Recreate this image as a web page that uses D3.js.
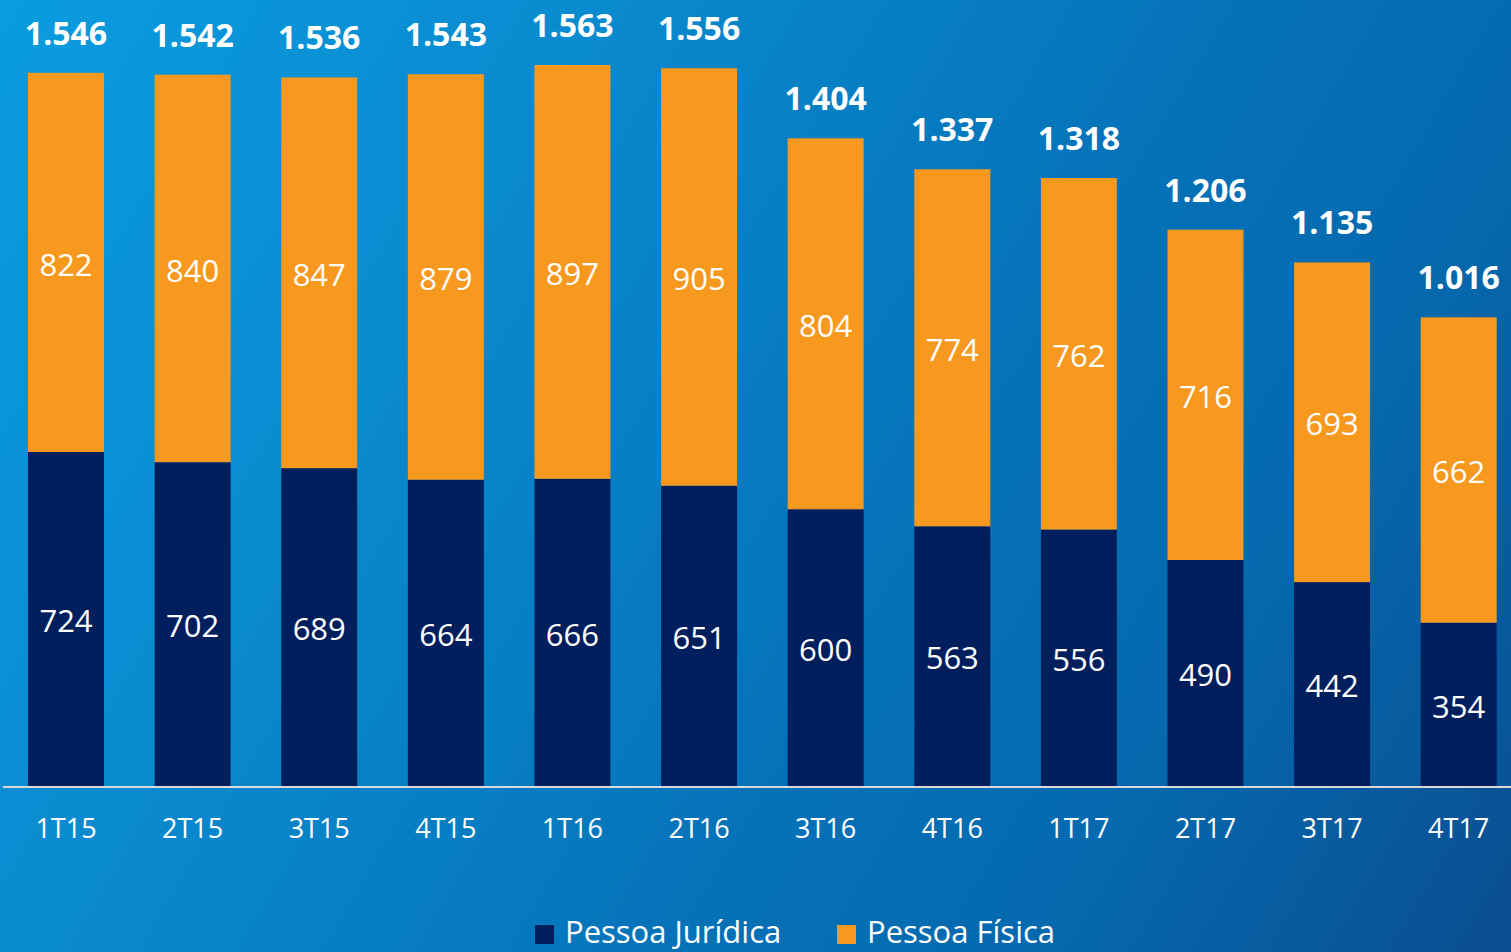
<!DOCTYPE html>
<html>
<head>
<meta charset="utf-8">
<script src="https://cdn.jsdelivr.net/npm/d3@7"></script>
<style>
  html, body { margin: 0; padding: 0; overflow: hidden; }
  body { width: 1511px; height: 952px; }
  text { font-family: "Open Sans", "Noto Sans", sans-serif; fill: #fff; }
</style>
</head>
<body>
<div id="chart"></div>
<script>
// Data
var quarters = ["1T15", "2T15", "3T15", "4T15", "1T16", "2T16", "3T16", "4T16", "1T17", "2T17", "3T17", "4T17"];
var pessoaJuridica = [724, 702, 689, 664, 666, 651, 600, 563, 556, 490, 442, 354];
var pessoaFisica = [822, 840, 847, 879, 897, 905, 804, 774, 762, 716, 693, 662];
var seriesNames = ["Pessoa Jurídica", "Pessoa Física"];

var svgWidth = 1511;
var svgHeight = 952;
var baseY = 786;

var colors = { pj: "#001f5c", pf: "#f8991f" };

var svg = d3.select("#chart")
  .append("svg")
  .attr("width", svgWidth)
  .attr("height", svgHeight);

// background gradient
var defs = svg.append("defs");
var grad = defs.append("linearGradient")
  .attr("id", "bg")
  .attr("gradientUnits", "userSpaceOnUse")
  .attr("x1", 0).attr("y1", 0)
  .attr("x2", 1511).attr("y2", 900);
[[0, "#0a9cdf"], [0.28, "#0a8bd0"], [0.62, "#0571b7"], [0.78, "#0569ae"], [1, "#0a4f92"]]
  .forEach(function(s) {
    grad.append("stop").attr("offset", s[0]).attr("stop-color", s[1]);
  });

svg.append("rect")
  .attr("width", svgWidth)
  .attr("height", svgHeight)
  .attr("fill", "url(#bg)");

var data = quarters.map(function(q, i) {
  return { q: q, pj: pessoaJuridica[i], pf: pessoaFisica[i], total: pessoaJuridica[i] + pessoaFisica[i] };
});

// scales
var x = d3.scaleBand()
  .domain(quarters)
  .range([2.7, 1522])
  .paddingInner(0.4)
  .paddingOuter(0.2);

var y = d3.scaleLinear()
  .domain([0, d3.max(data, d => d.total)])
  .range([baseY, 65]);

var ptBR = d3.formatLocale({ decimal: ",", thousands: ".", grouping: [3], currency: ["R$", ""] });
var fmtTotal = ptBR.format(",d");

var bars = svg.append("g").selectAll("g")
  .data(data)
  .enter()
  .append("g");

// Pessoa Jurídica (bottom)
bars.append("rect")
  .attr("x", d => x(d.q))
  .attr("width", x.bandwidth())
  .attr("y", d => y(d.pj))
  .attr("height", d => y(0) - y(d.pj))
  .attr("fill", colors.pj);

// Pessoa Física (top)
bars.append("rect")
  .attr("x", d => x(d.q))
  .attr("width", x.bandwidth())
  .attr("y", d => y(d.total))
  .attr("height", d => y(d.pj) - y(d.total))
  .attr("fill", colors.pf);

// segment labels
bars.append("text")
  .attr("x", d => x(d.q) + x.bandwidth() / 2)
  .attr("y", d => (y(0) + y(d.pj)) / 2 + 2)
  .attr("dy", "0.36em")
  .attr("text-anchor", "middle")
  .style("font-size", "31px")
  .text(d => d.pj);

bars.append("text")
  .attr("x", d => x(d.q) + x.bandwidth() / 2)
  .attr("y", d => (y(d.pj) + y(d.total)) / 2 + 2)
  .attr("dy", "0.36em")
  .attr("text-anchor", "middle")
  .style("font-size", "31px")
  .text(d => d.pf);

// totals
bars.append("text")
  .attr("x", d => x(d.q) + x.bandwidth() / 2)
  .attr("y", d => y(d.total) - 28)
  .attr("text-anchor", "middle")
  .style("font-size", "32px")
  .style("font-weight", "bold")
  .text(d => fmtTotal(d.total));

// baseline
svg.append("line")
  .attr("x1", 3).attr("x2", svgWidth)
  .attr("y1", baseY + 1).attr("y2", baseY + 1)
  .attr("stroke", "#d9d9d9")
  .attr("stroke-width", 2);

// category axis
var xAxis = svg.append("g")
  .attr("transform", `translate(0, ${baseY})`)
  .call(d3.axisBottom(x).tickSize(0).tickPadding(33));
xAxis.select(".domain").remove();
xAxis.selectAll("text")
  .attr("fill", "#fff")
  .style("font-family", '"Open Sans", "Noto Sans", sans-serif')
  .style("font-size", "27px");

// legend
var legend = svg.append("g");
var legendX = [535, 837];
var legendColors = [colors.pj, colors.pf];
seriesNames.forEach(function(name, i) {
  legend.append("rect")
    .attr("x", legendX[i])
    .attr("y", 925)
    .attr("width", 19)
    .attr("height", 19)
    .attr("fill", legendColors[i]);
  legend.append("text")
    .attr("x", legendX[i] + 30)
    .attr("y", 943)
    .style("font-size", "31px")
    .text(name);
});
</script>
</body>
</html>
